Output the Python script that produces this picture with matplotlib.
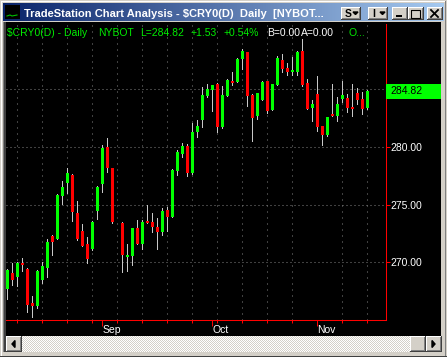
import numpy as np
import matplotlib.pyplot as plt
from matplotlib.patches import Rectangle, Polygon
from matplotlib.colors import LinearSegmentedColormap, ListedColormap
import matplotlib.transforms as mtransforms

plt.rcParams['font.family'] = ['Liberation Sans', 'DejaVu Sans']
plt.rcParams['lines.scale_dashes'] = False

# Daily bars ($CRY0, NYBOT), slot 22 is an empty day (holiday)
slots = list(range(22)) + list(range(23, 73))
opens = [267.70, 269.11, 268.76, 269.97, 269.43, 266.48, 266.20, 268.47, 269.54, 272.31,
         272.02, 275.77, 276.87, 277.56, 274.27, 272.69, 271.59, 271.16, 274.44, 276.78,
         279.98, 278.18, 273.40, 270.49, 270.58, 272.97, 271.59, 273.58, 273.49, 273.06,
         272.63, 274.53, 273.95, 277.93, 279.38, 280.07, 277.73, 281.31, 282.32, 284.42,
         284.94, 285.43, 281.71, 284.42, 285.69, 285.63, 287.60, 288.20, 284.48, 282.69,
         284.05, 285.69, 283.21, 285.35, 287.51, 286.82, 286.47, 286.47, 288.29, 285.52,
         283.36, 284.57, 281.80, 281.02, 282.84, 282.69, 284.13, 284.22, 283.44, 284.65,
         284.13, 283.36]
highs = [269.40, 269.95, 270.00, 270.35, 269.48, 267.12, 269.34, 270.00, 272.02, 272.40,
         275.92, 277.07, 278.16, 277.65, 275.34, 273.32, 272.17, 273.61, 276.64, 280.18,
         280.73, 278.20, 273.45, 271.59, 273.00, 273.67, 273.67, 274.96, 274.24, 273.84,
         274.73, 274.79, 278.05, 279.72, 280.36, 280.25, 282.03, 282.32, 285.14, 285.43,
         285.37, 285.49, 285.26, 285.87, 286.47, 287.68, 288.46, 288.23, 284.57, 284.65,
         285.69, 285.72, 285.46, 287.86, 288.03, 287.25, 287.77, 288.29, 289.33, 285.87,
         284.05, 286.12, 281.83, 282.60, 285.43, 284.34, 285.69, 284.57, 285.43, 285.09,
         284.74, 284.91]
lows = [266.83, 268.04, 267.98, 269.28, 265.68, 265.24, 266.05, 268.19, 268.76, 270.67,
        271.98, 275.05, 276.00, 273.61, 271.96, 271.40, 269.92, 271.10, 273.75, 276.12,
        277.79, 273.41, 269.14, 269.28, 269.80, 271.55, 271.16, 273.38, 272.60, 271.16,
        272.40, 272.74, 273.90, 277.56, 279.15, 277.50, 277.67, 280.82, 281.74, 284.29,
        283.13, 281.31, 281.65, 284.37, 285.35, 285.58, 286.73, 283.56, 280.53, 282.40,
        284.02, 282.89, 283.18, 285.32, 286.50, 286.21, 286.21, 286.24, 285.26, 283.24,
        282.26, 281.39, 280.18, 280.93, 282.66, 282.26, 283.88, 283.04, 282.69, 283.70,
        282.84, 283.27]
closes = [269.34, 268.47, 269.95, 269.89, 266.34, 266.25, 269.28, 269.71, 271.73, 271.79,
          275.86, 276.49, 277.70, 274.33, 272.02, 271.45, 270.29, 273.49, 276.52, 279.92,
          278.16, 273.49, 270.67, 270.67, 272.97, 271.59, 273.49, 273.40, 273.06, 272.63,
          274.44, 273.93, 277.99, 279.58, 280.07, 277.73, 281.28, 281.80, 284.48, 285.00,
          285.35, 281.74, 284.48, 285.78, 285.52, 287.60, 288.29, 284.42, 282.52, 284.63,
          285.61, 283.13, 285.43, 287.68, 286.73, 286.47, 286.64, 288.20, 285.35, 283.27,
          283.70, 281.74, 281.02, 282.57, 282.69, 283.70, 284.48, 283.36, 283.38, 284.05,
          283.27, 284.82]

month_labels = ['Sep', 'Oct', 'Nov']
month_slots = [19, 41, 62]
week_slots = list(range(2, 73, 5))
price_ticks = [270, 275, 280, 285]
last_price = 284.82
net_change = 1.53
pct_change = 0.54

W, H = 447, 357
GRAY = '#d4d0c8'
fig = plt.figure(figsize=(W / 100, H / 100), dpi=100, facecolor=GRAY)

# window frame drawn in pixel coordinates
frame = fig.add_axes([0, 0, 1, 1])
frame.set_xlim(0, W)
frame.set_ylim(H, 0)
frame.axis('off')


def px(x, y, w, h, c, z=1):
    frame.add_patch(Rectangle((x, y), w, h, facecolor=c, edgecolor='none', lw=0, zorder=z))


def button(x, y, w, h, z=3):
    px(x, y, w, h, GRAY, z)
    px(x, y, w, 1, 'white', z)
    px(x, y, 1, h, 'white', z)
    px(x, y + h - 1, w, 1, '#404040', z)
    px(x + w - 1, y, 1, h, '#404040', z)
    px(x + 1, y + h - 2, w - 2, 1, '#808080', z)
    px(x + w - 2, y + 1, 1, h - 2, '#808080', z)


# outer border
px(1, 1, W - 2, 1, 'white')
px(1, 1, 1, H - 2, 'white')
px(W - 2, 1, 1, H - 2, '#808080')
px(0, H - 1, W, 1, '#404040')

# title bar gradient
cmap = LinearSegmentedColormap.from_list('tb', ['#0a246a', '#a6caf0'])
grad = np.linspace(0, 1, 256).reshape(1, -1)
frame.imshow(grad, extent=[3, W - 3, 21, 3], aspect='auto', cmap=cmap, zorder=1)
px(5, 5, 15, 14, 'black', 2)
frame.plot([7, 10, 12, 17], [16, 15, 16, 15], color='#00c000', lw=0.8, zorder=3)
frame.text(24, 17.3, 'TradeStation Chart Analysis - $CRY0(D)  Daily  [NYBOT...',
           color='white', fontsize=8, fontweight='bold', va='baseline', ha='left', zorder=3)
button(341, 7, 20, 13)
frame.text(345, 17, 'S', fontsize=7.5, fontweight='bold', va='baseline', zorder=4)
frame.add_patch(Polygon([[353, 12], [358, 12], [355.5, 14.5]], color='black', zorder=4))
button(368, 7, 20, 13)
frame.text(372, 17, 'I', fontsize=7.5, fontweight='bold', va='baseline', zorder=4)
frame.add_patch(Polygon([[380, 12], [385, 12], [382.5, 14.5]], color='black', zorder=4))
button(392, 7, 16, 13)
px(396, 15, 6, 2, 'black', 4)
button(408, 7, 16, 13)
frame.add_patch(Rectangle((411, 9.5), 9, 8, facecolor='none', edgecolor='black', lw=0.8, zorder=4))
px(411, 9.5, 9, 1.5, 'black', 4)
button(427, 7, 16, 13)
frame.plot([431, 438], [10, 17], color='black', lw=1.3, zorder=4)
frame.plot([431, 438], [17, 10], color='black', lw=1.3, zorder=4)

# chart panel
px(6, 22, 435, 314, 'black')
px(3, 22, 1, 330, '#808080')
px(4, 22, 2, 330, '#404040')

# scroll bar
checker = (np.indices((16, 389)).sum(axis=0) % 2).astype(float)
frame.imshow(checker, extent=[21, 410, 352, 336], aspect='auto', interpolation='nearest',
             cmap=ListedColormap(['white', GRAY]), zorder=2)
button(6, 336, 16, 16)
frame.add_patch(Polygon([[12, 344], [15, 340.5], [15, 347.5]], color='black', zorder=4))
button(410, 336, 16, 16)
button(426, 336, 16, 16)
frame.add_patch(Polygon([[435, 344], [432, 340.5], [432, 347.5]], color='black', zorder=4))

# price chart
ax = fig.add_axes([6 / W, (H - 319.5) / H, 379.5 / W, 295.5 / H], facecolor='black', zorder=2)
ax.set_xlim(-0.26, 75.64)
ax.set_ylim(265.05, 290.63)

o = np.array(opens)
c = np.array(closes)
colors = np.where(c >= o, '#00ff00', '#ff0000')
body = np.where(np.abs(c - o) < 0.17, 0.17 * np.sign(c - o + 1e-9), c - o)
ax.vlines(slots, lows, highs, colors='#c8c8c8', lw=0.7, antialiased=False, zorder=3)
ax.bar(slots, body, bottom=o, width=0.6, color=colors, lw=0, antialiased=False, zorder=4)

ax.set_xticks(month_slots)
ax.set_xticklabels(month_labels)
ax.set_xticks(week_slots, minor=True)
ax.set_yticks(price_ticks)
ax.set_yticklabels([f'{p:.2f}' for p in price_ticks])
ax.yaxis.tick_right()
ax.tick_params(axis='y', colors='red', labelcolor='white', length=2.9, width=0.75,
               pad=0.8, labelsize=7.5)
ax.tick_params(axis='x', which='major', colors='red', labelcolor='white', length=4.3,
               width=0.75, pad=-0.5, labelsize=7.5)
ax.tick_params(axis='x', which='minor', colors='red', length=2.2, width=0.75)
for lab in ax.get_xticklabels():
    lab.set_ha('left')
ax.grid(which='minor', axis='x', color='#808080', lw=0.75, linestyle=(0, (0.72, 3.6)))
ax.grid(which='major', axis='y', color='#808080', lw=0.75, linestyle=(0, (0.72, 2.16)))
ax.set_axisbelow(True)
for side in ['top', 'left']:
    ax.spines[side].set_visible(False)
for side in ['right', 'bottom']:
    ax.spines[side].set_color('red')
    ax.spines[side].set_linewidth(0.75)

# last price marker on the price scale
trans = mtransforms.blended_transform_factory(ax.transAxes, ax.transData)
ax.add_patch(Rectangle((1.001, last_price - 0.65), 55 / 379.5, 1.3, transform=trans,
                       facecolor='#00ff00', edgecolor='none', clip_on=False, zorder=6))
ax.text(1.013, last_price, f'{last_price:.2f}', transform=trans, color='black',
        fontsize=7.5, va='center', ha='left', zorder=7, clip_on=False)

# header line above the bars
GREEN_TXT = '#00ee00'
header = [('$CRY0(D) - Daily', 6.7, GREEN_TXT), ('NYBOT', 97.7, GREEN_TXT),
          (f'L={last_price:.2f}', 139.7, GREEN_TXT), (f'+{net_change:.2f}', 191, GREEN_TXT),
          (f'+{pct_change:.2f}%', 224, GREEN_TXT), ('B=0.00', 266.7, 'white'),
          ('A=0.00', 301, 'white'), ('O...', 348.3, GREEN_TXT)]
for txt, x, col in header:
    fig.text(x / W, 1 - 36.5 / H, txt, color=col, fontsize=7.5, va='baseline',
             ha='left', zorder=10)

fig.savefig('out.png', dpi=100, facecolor=GRAY)
